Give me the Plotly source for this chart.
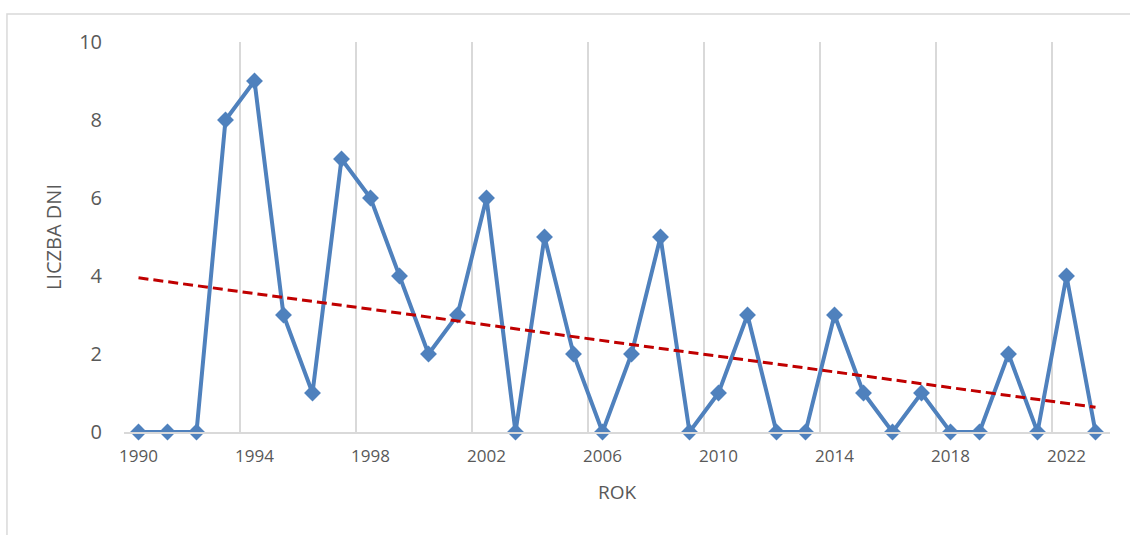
import numpy as np
import plotly.graph_objects as go

years = list(range(1990, 2024))
days = [0, 0, 0, 8, 9, 3, 1, 7, 6, 4, 2, 3, 6, 0, 5, 2, 0, 2, 5, 0,
        1, 3, 0, 0, 3, 1, 0, 1, 0, 0, 2, 0, 4, 0]
x_tick_years = list(range(1990, 2024, 4))
y_ticks = [0, 2, 4, 6, 8, 10]

slope, intercept = np.polyfit(years, days, 1)
trend_x = [years[0], years[-1]]
trend_y = [slope * v + intercept for v in trend_x]

fig = go.Figure()
fig.add_trace(go.Scatter(
    x=years, y=days, mode="lines+markers",
    line=dict(color="#4F81BD", width=4),
    marker=dict(symbol="diamond", size=13, color="#4F81BD"),
    showlegend=False, cliponaxis=False, hoverinfo="skip",
))
fig.add_trace(go.Scatter(
    x=trend_x, y=trend_y, mode="lines",
    line=dict(color="#C00000", width=3, dash="10px,5px"),
    showlegend=False, hoverinfo="skip",
))

font = "Open Sans, Liberation Sans, sans-serif"
fig.update_layout(
    width=1130, height=535,
    margin=dict(l=124, r=20, t=42, b=103),
    paper_bgcolor="white", plot_bgcolor="white",
    font=dict(family=font, color="#595959", size=16),
    xaxis=dict(
        range=[1989.5, 2023.5], tickvals=x_tick_years,
        ticktext=[str(v) for v in x_tick_years],
        showgrid=False, zeroline=False, ticks="",
        showline=True, linecolor="#D9D9D9", linewidth=1.5,
        tickfont=dict(size=17, color="#595959"),
        ticklabelstandoff=8,
        minor=dict(tickvals=[v - 0.5 for v in x_tick_years], showgrid=True,
                   gridcolor="#D9D9D9", gridwidth=1.5, ticks=""),
        title=dict(text="ROK", font=dict(size=19, color="#595959"), standoff=20),
        fixedrange=True,
    ),
    yaxis=dict(
        range=[0, 10], tickvals=y_ticks, showgrid=False, zeroline=False,
        showline=False, ticks="", ticklabelstandoff=21,
        tickfont=dict(size=20, color="#595959"),
        title=dict(text="LICZBA DNI", font=dict(size=20, color="#595959"), standoff=12),
        fixedrange=True,
    ),
    shapes=[dict(type="rect", xref="paper", yref="paper",
                 x0=-0.1187, x1=1.05, y0=-0.4, y1=1.0718,
                 line=dict(color="#D9D9D9", width=1.5), layer="below")],
)

fig.write_html("out.html", config={"displayModeBar": False},
               post_script="document.body.style.margin='0';document.body.style.overflow='hidden';")
